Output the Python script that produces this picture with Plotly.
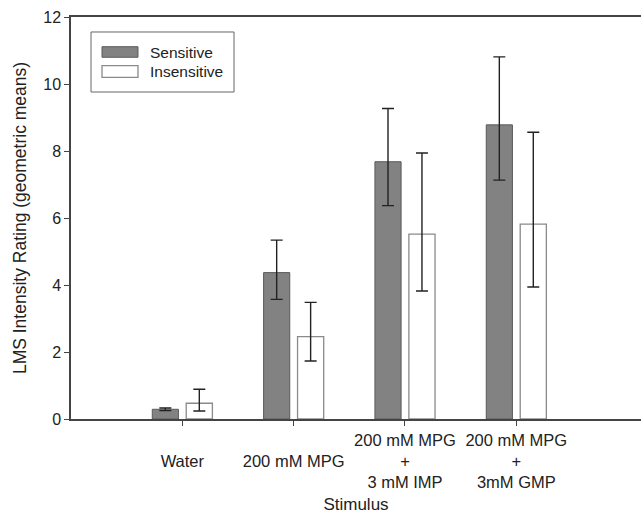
import plotly.graph_objects as go

categories = ["Water", "200 mM MPG", "200 mM MPG + 3 mM IMP", "200 mM MPG + 3mM GMP"]
tick_labels = ["<br>Water", "<br>200 mM MPG", "200 mM MPG<br>+<br>3 mM IMP", "200 mM MPG<br>+<br>3mM GMP"]
positions = [1, 2, 3, 4]

series_names = ["Sensitive", "Insensitive"]

sensitive = [0.29, 4.37, 7.68, 8.78]
sensitive_hi = [0.33, 5.34, 9.27, 10.81]
sensitive_lo = [0.25, 3.57, 6.37, 7.13]

insensitive = [0.47, 2.46, 5.52, 5.82]
insensitive_hi = [0.89, 3.48, 7.94, 8.56]
insensitive_lo = [0.24, 1.73, 3.82, 3.94]

FONT = "Liberation Sans, Arial, sans-serif"
S_FILL, S_LINE = "#828282", "#5a5a5a"
I_FILL, I_LINE = "#ffffff", "#8a8a8a"


def err(vals, hi, lo):
    return dict(type="data", symmetric=False,
                array=[h - v for h, v in zip(hi, vals)],
                arrayminus=[v - l for v, l in zip(vals, lo)],
                color="#222222", thickness=1.4, width=6)


fig = go.Figure()
fig.add_trace(go.Bar(
    x=positions, y=sensitive, name=series_names[0],
    width=0.235, offset=-0.27,
    marker=dict(color=S_FILL, line=dict(color=S_LINE, width=1)),
    error_y=err(sensitive, sensitive_hi, sensitive_lo),
))
fig.add_trace(go.Bar(
    x=positions, y=insensitive, name=series_names[1],
    width=0.235, offset=0.035,
    marker=dict(color=I_FILL, line=dict(color=I_LINE, width=1.3)),
    error_y=err(insensitive, insensitive_hi, insensitive_lo),
))

# legend drawn as a box with wide swatches, like the reference
shapes = [
    dict(type="rect", xref="paper", yref="paper", x0=0.0351, x1=0.2860, y0=0.8134, y1=0.9627,
         line=dict(color="#666666", width=1), fillcolor="white", layer="above"),
    dict(type="rect", xref="paper", yref="paper", x0=0.0544, x1=0.1175, y0=0.8998, y1=0.9261,
         line=dict(color=S_LINE, width=1), fillcolor=S_FILL, layer="above"),
    dict(type="rect", xref="paper", yref="paper", x0=0.0544, x1=0.1175, y0=0.8500, y1=0.8789,
         line=dict(color=I_LINE, width=1.3), fillcolor=I_FILL, layer="above"),
]
annotations = [
    dict(text=series_names[0], xref="paper", yref="paper", x=0.1351, y=0.9129,
         xanchor="left", yanchor="middle", showarrow=False, font=dict(size=15.5)),
    dict(text=series_names[1], xref="paper", yref="paper", x=0.1351, y=0.8644,
         xanchor="left", yanchor="middle", showarrow=False, font=dict(size=15.5)),
]

fig.update_layout(
    width=641, height=514,
    margin=dict(l=71, r=0, t=17, b=95),
    paper_bgcolor="white", plot_bgcolor="white",
    font=dict(family=FONT, size=17, color="#222222"),
    showlegend=False,
    shapes=shapes, annotations=annotations,
)
fig.update_xaxes(
    range=[0, 5.12], tickmode="array", tickvals=positions, ticktext=tick_labels,
    showline=True, linecolor="#444444", linewidth=1.5, mirror=True,
    ticks="outside", ticklen=5, tickcolor="#444444", showgrid=False, zeroline=False,
    title=dict(text="Stimulus", standoff=12, font=dict(size=17)), tickfont=dict(size=16.5),
)
fig.update_yaxes(
    range=[0, 12], dtick=2, showline=True, linecolor="#444444", linewidth=1.5,
    ticks="outside", ticklen=5, tickcolor="#444444", showgrid=False, zeroline=False,
    title=dict(text="LMS Intensity Rating (geometric means)", standoff=12, font=dict(size=17.5)),
    tickfont=dict(size=16),
)

fig.write_html("out.html", config={"displayModeBar": False},
               post_script="document.body.style.margin='0';")
